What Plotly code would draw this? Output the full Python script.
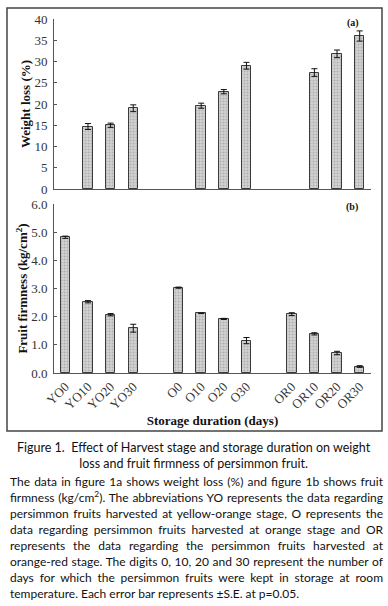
import plotly.graph_objects as go

W, H = 388, 606

# category order (two blank slots separate the harvest-stage groups)
categories = ["YO0", "YO10", "YO20", "YO30", " ",
              "O0", "O10", "O20", "O30", "  ",
              "OR0", "OR10", "OR20", "OR30"]
bar_labels = ["YO0", "YO10", "YO20", "YO30",
              "O0", "O10", "O20", "O30",
              "OR0", "OR10", "OR20", "OR30"]

weight_loss = [None, 14.7, 15.0, 19.0,
               None, 19.6, 22.9, 29.0,
               None, 27.4, 31.8, 36.0]
weight_loss_se = [0, 0.7, 0.5, 0.8,
                  0, 0.6, 0.5, 0.8,
                  0, 0.9, 0.9, 1.2]

firmness = [4.82, 2.53, 2.07, 1.59,
            3.03, 2.12, 1.92, 1.15,
            2.09, 1.39, 0.71, 0.23]
firmness_se = [0.04, 0.04, 0.04, 0.14,
               0.02, 0.01, 0.02, 0.11,
               0.05, 0.04, 0.06, 0.03]

wl_ticks = [0, 5, 10, 15, 20, 25, 30, 35, 40]
ff_ticks = [0, 1, 2, 3, 4, 5, 6]

SERIF = "Liberation Serif"
SANS = "Lato"
BAR_FILL = "#c4c4c4"
BAR_LINE = "#3a3a3a"


def px_x(p):
    return p / W


def px_y(p):
    return 1 - p / H


fig = go.Figure()

bar_style = dict(
    marker=dict(color=BAR_FILL, line=dict(color=BAR_LINE, width=1),
                pattern=dict(shape=".", fgcolor="#8c8c8c", bgcolor="#d2d2d2",
                             size=3, solidity=0.35)),
    width=0.42, showlegend=False,
)

fig.add_trace(go.Bar(x=bar_labels, y=weight_loss,
                     error_y=dict(type="data", array=weight_loss_se, color="#111",
                                  thickness=1, width=3),
                     xaxis="x", yaxis="y", **bar_style))
fig.add_trace(go.Bar(x=bar_labels, y=firmness,
                     error_y=dict(type="data", array=firmness_se, color="#111",
                                  thickness=1, width=3),
                     xaxis="x2", yaxis="y2", **bar_style))

xdom = [px_x(54), px_x(371)]
axis_common = dict(showline=True, linecolor="#555", linewidth=1, showgrid=False,
                   zeroline=False, automargin=False)

fig.update_layout(
    width=W, height=H,
    margin=dict(l=0, r=0, t=0, b=0, autoexpand=False),
    paper_bgcolor="white", plot_bgcolor="rgba(0,0,0,0)",
    font=dict(family=SERIF, color="#222"),
    bargap=0,
    xaxis=dict(domain=xdom, anchor="y", type="category",
               categoryorder="array", categoryarray=categories,
               range=[-0.5, len(categories) - 0.5],
               showticklabels=False, ticks="", **axis_common),
    yaxis=dict(domain=[px_y(189), px_y(19)], anchor="x",
               range=[0, 40], tickvals=wl_ticks,
               ticks="inside", ticklen=3, tickcolor="#555", ticklabelstandoff=3,
               tickfont=dict(size=13, family=SERIF, color="#333"),
               title=dict(text="<b>Weight loss (%)</b>",
                          font=dict(size=13, family=SERIF, color="#111"),
                          standoff=0),
               **axis_common),
    xaxis2=dict(domain=xdom, anchor="y2", type="category",
                categoryorder="array", categoryarray=categories,
                range=[-0.5, len(categories) - 0.5],
                tickvals=bar_labels, ticktext=bar_labels,
                tickangle=-45, ticks="",
                tickfont=dict(size=13, family=SERIF, color="#333"),
                title=dict(text="<b>Storage duration (days)</b>",
                           font=dict(size=13, family=SERIF, color="#111"),
                           standoff=4),
                **axis_common),
    yaxis2=dict(domain=[px_y(373), px_y(204)], anchor="x2",
                range=[0, 6], tickvals=ff_ticks, tickformat=".1f",
                ticks="inside", ticklen=3, tickcolor="#555", ticklabelstandoff=3,
                tickfont=dict(size=13, family=SERIF, color="#333"),
                title=dict(text="<b>Fruit firmness (kg/cm<sup>2</sup>)</b>",
                           font=dict(size=13, family=SERIF, color="#111"),
                           standoff=0),
                **axis_common),
)

# frame around the chart
fig.add_shape(type="rect", xref="paper", yref="paper",
              x0=px_x(7), x1=px_x(382), y0=px_y(431), y1=px_y(8),
              line=dict(color="#444", width=1.5))

fig.add_annotation(text="<b>(a)</b>", x=px_x(361), y=px_y(15), xref="paper", yref="paper",
                   showarrow=False, font=dict(size=10, family=SERIF, color="#111"))
fig.add_annotation(text="<b>(b)</b>", x=px_x(360), y=px_y(207), xref="paper", yref="paper",
                   showarrow=False, font=dict(size=10, family=SERIF, color="#111"))

caption = ("Figure 1.  Effect of Harvest stage and storage duration on weight<br>"
           "loss and fruit firmness of persimmon fruit.")
fig.add_annotation(text=caption, x=0.5, y=px_y(438), xref="paper", yref="paper",
                   xanchor="center", yanchor="top", align="center", showarrow=False,
                   font=dict(size=12.5, family=SANS, color="#111"))

body_lines = [
    "The data in figure 1a shows weight loss (%) and figure 1b shows fruit",
    "firmness (kg/cm<sup>2</sup>). The abbreviations YO represents the data regarding",
    "persimmon fruits harvested at yellow-orange stage, O represents the",
    "data regarding persimmon fruits harvested at orange stage and OR",
    "represents the data regarding the persimmon fruits harvested at",
    "orange-red stage. The digits 0, 10, 20 and 30 represent the number of",
    "days for which the persimmon fruits were kept in storage at room",
    "temperature. Each error bar represents ±S.E. at p=0.05.",
]
for i, line in enumerate(body_lines):
    fig.add_annotation(text=line, x=px_x(8), y=px_y(481 + 16 * i), xref="paper", yref="paper",
                       xanchor="left", yanchor="middle", align="left", showarrow=False,
                       font=dict(size=12, family=SANS, color="#111"))

# remove default page margin; justify the body paragraph lines (all but last)
post = """
document.body.style.margin = '0';
(function(){
  var gd = document.getElementsByClassName('plotly-graph-div')[0];
  var starts = ['The data in', 'firmness (kg', 'persimmon fruits harv', 'data regarding',
                'represents the data', 'orange-red', 'days for which'];
  var anns = gd.querySelectorAll('.annotation');
  var target = 373;
  for (var k = 0; k < anns.length; k++) {
    var txt = anns[k].querySelector('text.annotation-text');
    if (!txt) continue;
    var s = txt.textContent;
    var ok = starts.some(function(p){ return s.indexOf(p) === 0; });
    if (!ok) continue;
    var w = txt.getComputedTextLength();
    var n = (s.match(/ /g) || []).length;
    if (n > 0 && w < target) {
      txt.style.wordSpacing = ((target - w) / n) + 'px';
    }
  }
})();
"""

fig.write_html("out.html", post_script=post, config={"displayModeBar": False})
